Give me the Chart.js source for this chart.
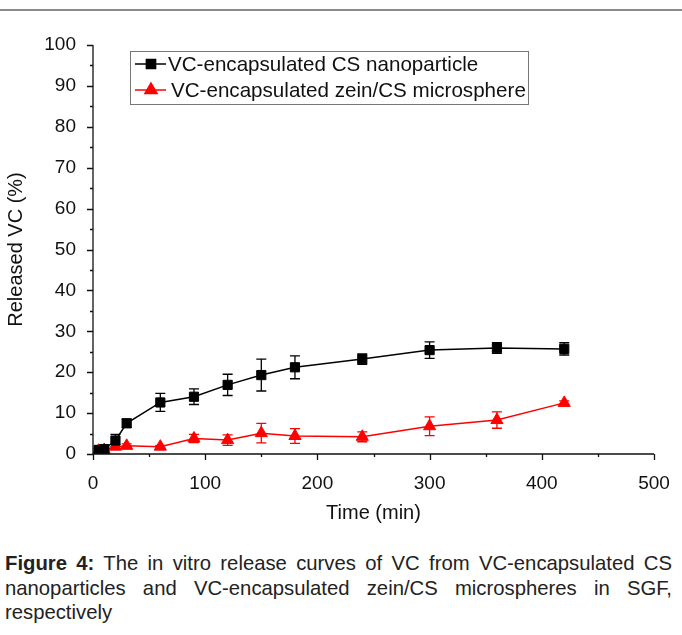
<!DOCTYPE html>
<html>
<head>
<meta charset="utf-8">
<script src="https://cdn.jsdelivr.net/npm/chart.js@4/dist/chart.umd.min.js"></script>
<style>
  body { margin: 0; background: #fff; width: 682px; height: 635px; position: relative; overflow: hidden; }
  #rule { position: absolute; left: 0; top: 9px; width: 682px; height: 2px; background: #8a8a8a; }
  #wrap { position: absolute; left: 0; top: 0; width: 682px; height: 535px; }
  #caption {
    position: absolute; left: 5px; top: 551px; width: 667px;
    font-family: "Liberation Sans", Arial, sans-serif;
    font-size: 20.3px; line-height: 24.5px; color: #222; text-align: justify;
  }
</style>
</head>
<body>
<div id="rule"></div>
<div id="wrap"><canvas id="release-chart" width="682" height="535"></canvas></div>
<div id="caption"><b>Figure 4:</b> The in vitro release curves of VC from VC-encapsulated CS nanoparticles and VC-encapsulated zein/CS microspheres in SGF, respectively</div>
<script>
// sampling times (min)
const times = [5, 10, 20, 30, 60, 90, 120, 150, 180, 240, 300, 360, 420]

// released VC (%) and error bars
const csValues = [1.0, 1.2, 3.3, 7.5, 12.6, 14.0, 16.9, 19.3, 21.2, 23.2, 25.4, 25.9, 25.7]
const csErrors = [0.4, 0.4, 1.5, 1.0, 2.2, 1.9, 2.6, 3.9, 2.8, 1.3, 2.0, 1.3, 1.5]
const zeinValues = [0.8, 1.0, 1.8, 2.0, 1.8, 3.8, 3.4, 5.1, 4.4, 4.2, 6.8, 8.3, 12.5]
const zeinErrors = [0.3, 0.3, 0.5, 0.5, 0.3, 1.0, 1.3, 2.4, 1.8, 1.2, 2.3, 2.0, 0.5]

const seriesLabels = ['VC-encapsulated CS nanoparticle', 'VC-encapsulated zein/CS microsphere']

const FONT = 'Liberation Sans, Arial, sans-serif'

// error bars drawn through the scales
const errorBars = {
  id: 'errorBars',
  beforeDatasetsDraw(chart) {
    const ctx = chart.ctx
    const yScale = chart.scales.y
    chart.data.datasets.forEach((ds, i) => {
      const meta = chart.getDatasetMeta(i)
      ctx.save()
      ctx.strokeStyle = ds.borderColor
      ctx.lineWidth = 1.3
      meta.data.forEach((pt, j) => {
        const e = ds.errors[j]
        const v = ds.data[j].y
        const top = yScale.getPixelForValue(v + e)
        const bot = yScale.getPixelForValue(v - e)
        ctx.beginPath()
        ctx.moveTo(pt.x, top); ctx.lineTo(pt.x, bot)
        ctx.moveTo(pt.x - 5, top); ctx.lineTo(pt.x + 5, top)
        ctx.moveTo(pt.x - 5, bot); ctx.lineTo(pt.x + 5, bot)
        ctx.stroke()
      })
      ctx.restore()
    })
  }
}

// axis lines with major/minor outward ticks
const axesTicks = {
  id: 'axesTicks',
  afterDraw(chart) {
    const ctx = chart.ctx
    const { left, right, top, bottom } = chart.chartArea
    const xs = chart.scales.x
    const ys = chart.scales.y
    ctx.save()
    ctx.strokeStyle = '#111'
    ctx.lineWidth = 1.3
    ctx.beginPath()
    ctx.moveTo(left, top); ctx.lineTo(left, bottom); ctx.lineTo(right, bottom)
    for (let v = 0; v <= 100; v += 5) {
      const y = Math.round(ys.getPixelForValue(v)) + 0.5
      ctx.moveTo(left, y); ctx.lineTo(left - (v % 10 === 0 ? 6 : 3), y)
    }
    for (let v = 0; v <= 500; v += 50) {
      const x = Math.round(xs.getPixelForValue(v)) + 0.5
      ctx.moveTo(x, bottom); ctx.lineTo(x, bottom + (v % 100 === 0 ? 6 : 3))
    }
    ctx.stroke()
    ctx.restore()
  }
}

// boxed legend inside the plot
const boxLegend = {
  id: 'boxLegend',
  afterDraw(chart) {
    const ctx = chart.ctx
    ctx.save()
    ctx.strokeStyle = '#777'
    ctx.lineWidth = 1
    ctx.strokeRect(130.5, 51.5, 398, 53)
    const rows = [64, 90]
    chart.data.datasets.forEach((ds, i) => {
      const y = rows[i]
      ctx.strokeStyle = ds.borderColor
      ctx.lineWidth = 1.5
      ctx.beginPath()
      ctx.moveTo(135, y); ctx.lineTo(166, y)
      ctx.stroke()
      ctx.fillStyle = ds.pointBackgroundColor
      ctx.strokeStyle = ds.borderColor
      Chart.helpers.drawPoint(ctx, { pointStyle: ds.pointStyle, radius: ds.pointRadius, rotation: 0, borderWidth: 1 }, 151, y)
      ctx.fillStyle = '#111'
      ctx.font = '20.6px ' + FONT
      ctx.textBaseline = 'middle'
      ctx.fillText(ds.label, i === 0 ? 168 : 171, y + 1)
    })
    ctx.restore()
  }
}

new Chart(document.getElementById('release-chart').getContext('2d'), {
  type: 'line',
  data: {
    datasets: [
      {
        label: seriesLabels[0],
        data: times.map((t, i) => ({ x: t, y: csValues[i] })),
        errors: csErrors,
        borderColor: '#000',
        backgroundColor: '#000',
        pointBackgroundColor: '#000',
        borderWidth: 1.5,
        pointStyle: 'rect',
        pointRadius: 6.5,
        pointBorderWidth: 1
      },
      {
        label: seriesLabels[1],
        data: times.map((t, i) => ({ x: t, y: zeinValues[i] })),
        errors: zeinErrors,
        borderColor: '#ff0000',
        backgroundColor: '#ff0000',
        pointBackgroundColor: '#ff0000',
        borderWidth: 1.5,
        pointStyle: 'triangle',
        pointRadius: 7,
        pointBorderWidth: 1
      }
    ]
  },
  options: {
    responsive: false,
    animation: false,
    devicePixelRatio: 1,
    layout: { padding: { left: 0, right: 28, top: 45, bottom: 0 } },
    plugins: { legend: { display: false }, tooltip: { enabled: false } },
    scales: {
      x: {
        type: 'linear',
        min: 0,
        max: 500,
        grid: { display: false },
        border: { display: false },
        ticks: { stepSize: 100, color: '#111', font: { family: FONT, size: 19 }, padding: 10 },
        title: { display: true, text: 'Time (min)', color: '#111', font: { family: FONT, size: 20 }, padding: { top: 4, bottom: 10 } },
        afterFit(scale) { scale.height = 81 }
      },
      y: {
        min: 0,
        max: 100,
        grid: { display: false },
        border: { display: false },
        ticks: { stepSize: 10, color: '#111', font: { family: FONT, size: 19 }, padding: 9 },
        title: { display: true, text: 'Released VC (%)', color: '#111', font: { family: FONT, size: 20 }, padding: { top: 4, bottom: 8 } },
        afterFit(scale) { scale.width = 93 }
      }
    }
  },
  plugins: [errorBars, axesTicks, boxLegend]
})
</script>
</body>
</html>
